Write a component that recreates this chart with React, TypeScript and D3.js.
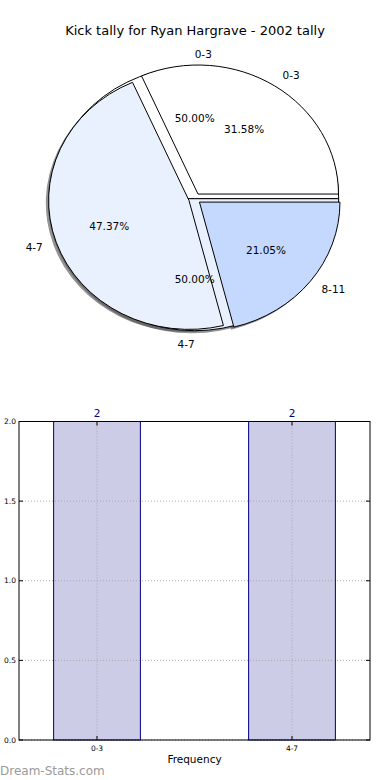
import React, { useRef, useEffect } from "react"
import * as d3 from "d3"

const title = "Kick tally for Ryan Hargrave - 2002 tally"

// back pie (2 groups) and front pie (3 groups), drawn in the same axes
const backLabels = ["0-3", "4-7"]
const backValues = [2, 2]
const frontLabels = ["0-3", "4-7", "8-11"]
const frontValues = [6, 9, 4]
const sliceColours = ["#ffffff", "#eaf1fe", "#c5d9fe"]

const barLabels = ["0-3", "4-7"]
const barValues = [2, 2]
const yTicks = [0, 0.5, 1, 1.5, 2]

const font = "DejaVu Sans, sans-serif"

const pieLayout = (values: number[]) =>
  d3
    .pie<number>()
    .sort(null)
    .startAngle(Math.PI / 2)
    .endAngle(Math.PI / 2 - 2 * Math.PI)(values)

const App = () => {
  const ref = useRef<SVGSVGElement>(null)

  useEffect(() => {
    if (!ref.current) return
    const svg = d3.select(ref.current)
    svg.selectAll("*").remove()

    svg
      .append("text")
      .attr("x", 195)
      .attr("y", 30)
      .attr("text-anchor", "middle")
      .attr("dominant-baseline", "central")
      .style("font-family", font)
      .style("font-size", "13px")
      .text(title)

    // ---- pies ----
    const cx = 194.7
    const cy = 198.7
    const pies = [
      { values: backValues, labels: backLabels, rx: 144, ry: 132, explode: 0, pct: 0.61 },
      { values: frontValues, labels: frontLabels, rx: 140.5, ry: 129, explode: 0.043, pct: 0.6 },
    ]
    const arc = d3.arc<d3.PieArcDatum<number>>().innerRadius(0).outerRadius(1)

    const slices = pies.map(p => {
      const total = d3.sum(p.values)
      return pieLayout(p.values).map((a, i) => {
        const theta = Math.PI / 2 - (a.startAngle + a.endAngle) / 2
        const ux = Math.cos(theta)
        const uy = Math.sin(theta)
        return {
          a,
          i,
          p,
          ux,
          uy,
          x: cx + p.explode * p.rx * ux,
          y: cy - p.explode * p.ry * uy,
          share: (100 * a.value) / total,
        }
      })
    })

    const pieG = svg.append("g")
    // shadows first, under every wedge
    slices.flat().forEach(s => {
      pieG
        .append("path")
        .attr("d", arc(s.a))
        .attr(
          "transform",
          `translate(${s.x - 0.02 * s.p.rx},${s.y + 0.02 * s.p.ry}) scale(${s.p.rx},${s.p.ry})`
        )
        .attr("fill", "#4d4d4d")
        .attr("fill-opacity", 0.6)
    })
    slices.flat().forEach(s => {
      pieG
        .append("path")
        .attr("d", arc(s.a))
        .attr("transform", `translate(${s.x},${s.y}) scale(${s.p.rx},${s.p.ry})`)
        .attr("fill", sliceColours[s.i])
        .attr("stroke", "#000")
        .attr("stroke-width", 1)
        .attr("vector-effect", "non-scaling-stroke")
    })
    slices.flat().forEach(s => {
      pieG
        .append("text")
        .attr("x", s.x + 1.1 * s.p.rx * s.ux)
        .attr("y", s.y - 1.1 * s.p.ry * s.uy)
        .attr("text-anchor", s.ux > 0 ? "start" : "end")
        .attr("dominant-baseline", "central")
        .style("font-family", font)
        .style("font-size", "10.5px")
        .text(s.p.labels[s.i])
      pieG
        .append("text")
        .attr("x", s.x + s.p.pct * s.p.rx * s.ux)
        .attr("y", s.y - s.p.pct * s.p.ry * s.uy)
        .attr("text-anchor", "middle")
        .attr("dominant-baseline", "central")
        .style("font-family", font)
        .style("font-size", "10.5px")
        .text(s.share.toFixed(2) + "%")
    })

    // ---- bar chart ----
    const left = 19
    const right = 370
    const top = 421.5
    const bottom = 740
    const x = d3.scaleLinear().domain([-0.4, 1.4]).range([left, right])
    const y = d3.scaleLinear().domain([0, 2]).range([bottom, top])
    const barWidth = 0.445
    const barG = svg.append("g")

    barG
      .selectAll("rect")
      .data(barValues)
      .enter()
      .append("rect")
      .attr("x", (d, i) => x(i - barWidth / 2))
      .attr("width", x(barWidth) - x(0))
      .attr("y", d => y(d))
      .attr("height", d => y(0) - y(d))
      .attr("fill", "#cccce6")
      .attr("stroke", "#000080")
      .attr("stroke-width", 1)

    // grid
    yTicks.forEach(t => {
      barG
        .append("line")
        .attr("x1", left)
        .attr("x2", right)
        .attr("y1", y(t))
        .attr("y2", y(t))
        .attr("stroke", "#a8a8a8")
        .attr("stroke-dasharray", "1,2")
    })
    barLabels.forEach((l, i) => {
      barG
        .append("line")
        .attr("x1", x(i))
        .attr("x2", x(i))
        .attr("y1", top)
        .attr("y2", bottom)
        .attr("stroke", "#a8a8a8")
        .attr("stroke-dasharray", "1,2")
    })

    // frame
    barG
      .append("rect")
      .attr("x", left)
      .attr("y", top)
      .attr("width", right - left)
      .attr("height", bottom - top)
      .attr("fill", "none")
      .attr("stroke", "#000")

    // ticks (inward, both sides)
    yTicks.forEach(t => {
      barG.append("line").attr("x1", left).attr("x2", left + 4).attr("y1", y(t)).attr("y2", y(t)).attr("stroke", "#000")
      barG.append("line").attr("x1", right).attr("x2", right - 4).attr("y1", y(t)).attr("y2", y(t)).attr("stroke", "#000")
      barG
        .append("text")
        .attr("x", left - 3)
        .attr("y", y(t))
        .attr("text-anchor", "end")
        .attr("dominant-baseline", "central")
        .style("font-family", font)
        .style("font-size", "7.5px")
        .text(t.toFixed(1))
    })
    barLabels.forEach((l, i) => {
      barG.append("line").attr("x1", x(i)).attr("x2", x(i)).attr("y1", bottom).attr("y2", bottom - 4).attr("stroke", "#000")
      barG.append("line").attr("x1", x(i)).attr("x2", x(i)).attr("y1", top).attr("y2", top + 4).attr("stroke", "#000")
      barG
        .append("text")
        .attr("x", x(i))
        .attr("y", bottom + 8)
        .attr("text-anchor", "middle")
        .attr("dominant-baseline", "central")
        .style("font-family", font)
        .style("font-size", "7.5px")
        .text(l)
      barG
        .append("text")
        .attr("x", x(i))
        .attr("y", y(barValues[i]) - 9)
        .attr("text-anchor", "middle")
        .attr("dominant-baseline", "central")
        .attr("fill", "#00007f")
        .style("font-family", font)
        .style("font-size", "10.5px")
        .text(String(barValues[i]))
    })

    svg
      .append("text")
      .attr("x", (left + right) / 2)
      .attr("y", 763)
      .attr("text-anchor", "middle")
      .style("font-family", font)
      .style("font-size", "10.5px")
      .text("Frequency")

    svg
      .append("text")
      .attr("x", 0)
      .attr("y", 775)
      .attr("fill", "#9a9a9a")
      .style("font-family", font)
      .style("font-size", "12px")
      .text("Dream-Stats.com")
  }, [])

  return (
    <svg
      ref={ref}
      width={390}
      height={780}
      style={{ position: "absolute", left: 0, top: 0, background: "#fff" }}
    />
  )
}

export default App
